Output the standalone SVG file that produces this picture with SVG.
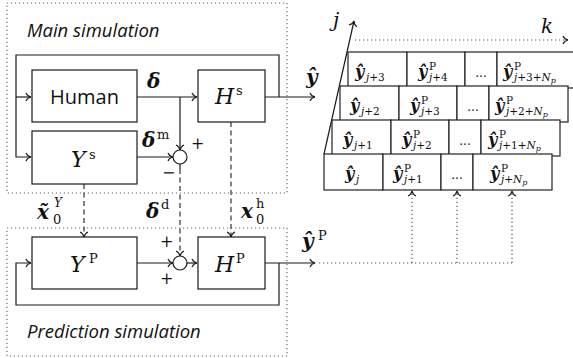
<svg xmlns="http://www.w3.org/2000/svg" width="573" height="358" viewBox="0 0 573 358">
<style>
.box{fill:#fff;stroke:#1a1a1a;stroke-width:1.2}
.cell{fill:#fff;stroke:#222;stroke-width:1.2}
.ln{fill:none;stroke:#1a1a1a;stroke-width:1.2}
.dash{fill:none;stroke:#333;stroke-width:1.2;stroke-dasharray:5 3.5}
.dot{fill:none;stroke:#555;stroke-width:1.2;stroke-dasharray:1.2 2.8}
.frame{fill:none;stroke:#666;stroke-width:1.1;stroke-dasharray:1.2 2.8}
.sans{font-family:"Open Sans","Noto Sans",sans-serif;fill:#111}
.mi{font-family:"DejaVu Serif","Liberation Serif",serif;font-style:italic;font-weight:normal;fill:#111}
.mb{font-family:"DejaVu Serif","Liberation Serif",serif;font-style:italic;font-weight:bold;fill:#111}
.rm{font-family:"DejaVu Serif","Liberation Serif",serif;font-style:normal;font-weight:normal;fill:#111}
.cy{font-size:16px}
.cs{font-size:10.5px}
</style>
<defs>
<marker id="arr" viewBox="-6 -5 7 10" markerWidth="7" markerHeight="10" refX="0" refY="0" markerUnits="userSpaceOnUse" orient="auto">
<path d="M -5 -4 C -4 -1.5 -1.2 -0.3 0 0 C -1.2 0.3 -4 1.5 -5 4" fill="none" stroke="#1a1a1a" stroke-width="1.1"/>
</marker>
</defs>

<!-- frames -->
<g id="main-frame">
<rect class="frame" x="7" y="3" width="280" height="190"/>
<text class="sans" x="27" y="37" font-size="18.5" font-style="italic">Main simulation</text>
</g>
<g id="pred-frame">
<rect class="frame" x="7" y="228" width="280" height="128"/>
<text class="sans" x="27" y="338" font-size="18.5" font-style="italic">Prediction simulation</text>
</g>

<!-- connectors -->
<g id="connectors">
<line class="ln" x1="137" y1="97" x2="197" y2="97" marker-end="url(#arr)"/>
<line class="ln" x1="180" y1="97" x2="180" y2="150" marker-end="url(#arr)"/>
<line class="ln" x1="137" y1="157" x2="173" y2="157" marker-end="url(#arr)"/>
<line class="ln" x1="265" y1="97" x2="315" y2="97" marker-end="url(#arr)"/>
<polyline class="ln" points="279,97 279,55 16,55 16,157 31,157" marker-end="url(#arr)"/>
<line class="ln" x1="16" y1="97" x2="31" y2="97" marker-end="url(#arr)"/>
<line class="ln" x1="180" y1="164" x2="180" y2="169"/>
<line class="dash" x1="180" y1="169" x2="180" y2="256" marker-end="url(#arr)"/>
<line class="dash" x1="231" y1="122" x2="231" y2="237" marker-end="url(#arr)"/>
<line class="dash" x1="84" y1="184" x2="84" y2="237" marker-end="url(#arr)"/>
<line class="ln" x1="137" y1="263" x2="173" y2="263" marker-end="url(#arr)"/>
<line class="ln" x1="187" y1="263" x2="197" y2="263" marker-end="url(#arr)"/>
<line class="ln" x1="265" y1="263" x2="315" y2="263" marker-end="url(#arr)"/>
<polyline class="ln" points="279,263 279,305 16,305 16,263 31,263" marker-end="url(#arr)"/>
<line class="dot" x1="319" y1="263" x2="512" y2="263"/>
<line class="dot" x1="412" y1="263" x2="412" y2="191" marker-end="url(#arr)"/>
<line class="dot" x1="457" y1="263" x2="457" y2="191" marker-end="url(#arr)"/>
<line class="dot" x1="512" y1="263" x2="512" y2="191" marker-end="url(#arr)"/>
<line class="ln" x1="324" y1="154" x2="354" y2="21" marker-end="url(#arr)"/>
<line class="dot" x1="355" y1="40" x2="568" y2="40" marker-end="url(#arr)"/>
</g>

<!-- main simulation nodes -->
<g id="human">
<rect class="box" x="32" y="70" width="105" height="52"/>
<text class="sans" x="84.5" y="104" font-size="20" text-anchor="middle">Human</text>
</g>
<g id="Hs">
<rect class="box" x="198" y="70" width="67" height="52"/>
<text class="mi" x="215" y="104" font-size="22">H</text>
<text class="rm" x="236" y="95" font-size="13">s</text>
</g>
<g id="Ys">
<rect class="box" x="32" y="131" width="105" height="53"/>
<text class="mi" x="71" y="167" font-size="22">Y</text>
<text class="rm" x="89" y="159" font-size="13">s</text>
</g>
<g id="sum-main">
<circle cx="180" cy="157" r="7" fill="#fff" stroke="#1a1a1a" stroke-width="1.2"/>
<text class="rm" x="191" y="149" font-size="16">+</text>
<text class="rm" x="162" y="178" font-size="16">−</text>
</g>

<!-- prediction nodes -->
<g id="Yp">
<rect class="box" x="32" y="237" width="105" height="52"/>
<text class="mi" x="70" y="272" font-size="22">Y</text>
<text class="rm" x="89" y="263" font-size="13">P</text>
</g>
<g id="Hp">
<rect class="box" x="198" y="237" width="67" height="52"/>
<text class="mi" x="215" y="272" font-size="22">H</text>
<text class="rm" x="236" y="263" font-size="13">P</text>
</g>
<g id="sum-pred">
<circle cx="180" cy="263" r="7" fill="#fff" stroke="#1a1a1a" stroke-width="1.2"/>
<text class="rm" x="160" y="247" font-size="16">+</text>
<text class="rm" x="160" y="284" font-size="16">+</text>
</g>

<!-- signal labels -->
<g id="labels">
<text class="mb" x="147" y="88" font-size="20">δ</text>
<text class="mb" x="306" y="84" font-size="20">ŷ</text>
<text class="mb" x="142" y="147" font-size="20">δ</text>
<text class="rm" x="157" y="139" font-size="13">m</text>
<text class="mb" x="37" y="219" font-size="20">x̃</text>
<text class="rm" x="53" y="224" font-size="13">0</text>
<text class="mi" x="54" y="207" font-size="12">Y</text>
<text class="mb" x="146" y="218" font-size="20">δ</text>
<text class="rm" x="161" y="209" font-size="13">d</text>
<text class="mb" x="241" y="218" font-size="20">x</text>
<text class="rm" x="256" y="224" font-size="13">0</text>
<text class="rm" x="256" y="208" font-size="13">h</text>
<text class="mb" x="302" y="248" font-size="20">ŷ</text>
<text class="rm" x="318" y="240" font-size="13">P</text>
<text class="mi" x="333" y="27" font-size="20">j</text>
<text class="mi" x="541" y="33" font-size="20">k</text>
</g>

<!-- prediction table rows -->
<g id="row-j3">
<rect class="cell" x="348" y="52" width="59" height="36"/>
<rect class="cell" x="407" y="52" width="58" height="36"/>
<rect class="cell" x="465" y="52" width="32" height="36"/>
<rect class="cell" x="497" y="52" width="79" height="36"/>
<text class="mb cy" x="355" y="77">ŷ</text><text class="mi cs" x="366" y="81">j<tspan class="rm">+3</tspan></text>
<text class="mb cy" x="418" y="77">ŷ</text><text class="rm cs" x="429" y="70">P</text><text class="mi cs" x="429" y="81">j<tspan class="rm">+4</tspan></text>
<text class="rm" x="481" y="77" font-size="12" text-anchor="middle">...</text>
<text class="mb cy" x="503" y="77">ŷ</text><text class="rm cs" x="514" y="70">P</text><text class="mi cs" x="514" y="81">j<tspan class="rm">+3+</tspan>N<tspan font-size="8" dy="2">p</tspan></text>
</g>
<g id="row-j2">
<rect class="cell" x="340" y="86" width="59" height="36"/>
<rect class="cell" x="399" y="86" width="58" height="36"/>
<rect class="cell" x="457" y="86" width="32" height="36"/>
<rect class="cell" x="489" y="86" width="79" height="36"/>
<text class="mb cy" x="350" y="111">ŷ</text><text class="mi cs" x="361" y="115">j<tspan class="rm">+2</tspan></text>
<text class="mb cy" x="410" y="111">ŷ</text><text class="rm cs" x="421" y="104">P</text><text class="mi cs" x="421" y="115">j<tspan class="rm">+3</tspan></text>
<text class="rm" x="473" y="111" font-size="12" text-anchor="middle">...</text>
<text class="mb cy" x="495" y="111">ŷ</text><text class="rm cs" x="506" y="104">P</text><text class="mi cs" x="506" y="115">j<tspan class="rm">+2+</tspan>N<tspan font-size="8" dy="2">p</tspan></text>
</g>
<g id="row-j1">
<rect class="cell" x="332" y="120" width="59" height="36"/>
<rect class="cell" x="391" y="120" width="58" height="36"/>
<rect class="cell" x="449" y="120" width="32" height="36"/>
<rect class="cell" x="481" y="120" width="79" height="36"/>
<text class="mb cy" x="343" y="145">ŷ</text><text class="mi cs" x="354" y="149">j<tspan class="rm">+1</tspan></text>
<text class="mb cy" x="402" y="145">ŷ</text><text class="rm cs" x="413" y="138">P</text><text class="mi cs" x="413" y="149">j<tspan class="rm">+2</tspan></text>
<text class="rm" x="465" y="145" font-size="12" text-anchor="middle">...</text>
<text class="mb cy" x="488" y="145">ŷ</text><text class="rm cs" x="499" y="138">P</text><text class="mi cs" x="499" y="149">j<tspan class="rm">+1+</tspan>N<tspan font-size="8" dy="2">p</tspan></text>
</g>
<g id="row-j">
<rect class="cell" x="324" y="154" width="59" height="36"/>
<rect class="cell" x="383" y="154" width="58" height="36"/>
<rect class="cell" x="441" y="154" width="32" height="36"/>
<rect class="cell" x="473" y="154" width="79" height="36"/>
<text class="mb cy" x="345" y="179">ŷ</text><text class="mi cs" x="356" y="183">j</text>
<text class="mb cy" x="393" y="179">ŷ</text><text class="rm cs" x="404" y="172">P</text><text class="mi cs" x="404" y="183">j<tspan class="rm">+1</tspan></text>
<text class="rm" x="457" y="179" font-size="12" text-anchor="middle">...</text>
<text class="mb cy" x="490" y="179">ŷ</text><text class="rm cs" x="501" y="172">P</text><text class="mi cs" x="501" y="183">j<tspan class="rm">+</tspan>N<tspan font-size="8" dy="2">p</tspan></text>
</g>
</svg>
